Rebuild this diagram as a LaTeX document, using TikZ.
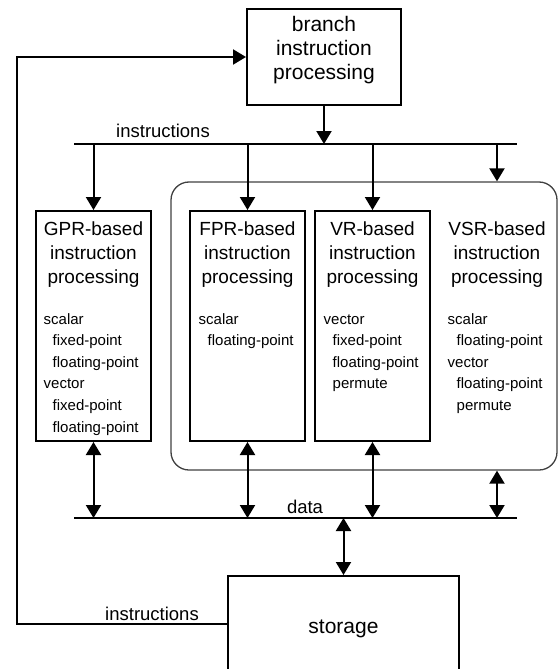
\documentclass[tikz,border=0pt]{standalone}
\usepackage{fontspec}
\setmainfont{Liberation Sans}
\usetikzlibrary{arrows.meta}
\newcommand{\mlines}[2]{\begin{tabular}[t]{@{}#1@{}}#2\end{tabular}}
\newcommand{\ind}{\hspace*{9pt}}
\begin{document}
\begin{tikzpicture}[x=1pt,y=-1pt,
  procbox/.style={draw=black, line width=2pt, inner sep=0pt, minimum width=115pt, minimum height=230pt},
  conn/.style={line width=2pt},
  arr/.style={conn, -{Triangle[length=13pt,width=15pt]}},
  biarr/.style={conn, {Triangle[length=13pt,width=15pt]}-{Triangle[length=13pt,width=15pt]}},
  ttl/.style={font=\fontsize{19}{24}\selectfont, inner sep=0pt, anchor=base},
  itm/.style={font=\fontsize{15}{21.6}\selectfont, inner sep=0pt, anchor=base west},
  lbl/.style={font=\fontsize{18.5}{22}\selectfont, inner sep=0pt, anchor=base},
  big/.style={font=\fontsize{21}{24}\selectfont, inner sep=0pt, anchor=base}
]
\useasboundingbox (0,0) rectangle (558,669);
\clip (0,0) rectangle (558,669);
\renewcommand{\arraystretch}{1}

% container of FPR/VR/VSR
\node[draw=black!75, line width=1.3pt, rounded corners=18pt, minimum width=386pt, minimum height=288pt, inner sep=0pt] (grp) at (364,326) {};

% boxes
\node[draw=black, line width=2pt, inner sep=0pt, minimum width=154pt, minimum height=96pt] (branch) at (324,57) {};
\node[procbox] (gpr) at (93.5,326) {};
\node[procbox] (fpr) at (247.5,326) {};
\node[procbox] (vr) at (372.5,326) {};
\node[draw=black, line width=2pt, inner sep=0pt, minimum width=231pt, minimum height=124pt] (storage) at (343.5,638) {};

% texts
\node[big] (branchtxt) at (324,32) {\mlines{c}{branch\\instruction\\processing}};
\node[ttl] (gprtitle) at (93.5,235) {\mlines{c}{GPR-based\\instruction\\processing}};
\node[ttl] (fprtitle) at (247.5,235) {\mlines{c}{FPR-based\\instruction\\processing}};
\node[ttl] (vrtitle) at (372.5,235) {\mlines{c}{VR-based\\instruction\\processing}};
\node[ttl] (vsrtitle) at (497,235) {\mlines{c}{VSR-based\\instruction\\processing}};

\node[itm] (gpritems) at (43.5,324) {\mlines{l}{scalar\\\ind fixed-point\\\ind floating-point\\vector\\\ind fixed-point\\\ind floating-point}};
\node[itm] (fpritems) at (198.5,324) {\mlines{l}{scalar\\\ind floating-point}};
\node[itm] (vritems) at (323.5,324) {\mlines{l}{vector\\\ind fixed-point\\\ind floating-point\\\ind permute}};
\node[itm] (vsritems) at (447.5,324) {\mlines{l}{scalar\\\ind floating-point\\vector\\\ind floating-point\\\ind permute}};

\node[lbl] (instrtop) at (163,137) {instructions};
\node[lbl] (instrbot) at (152,620) {instructions};
\node[lbl] (datalbl) at (305,513) {data};
\node[big] (storagetxt) at (343.5,633) {storage};

% instruction bus
\coordinate (ibL) at (74,144);
\coordinate (ibR) at (517,144);
\coordinate (vsrx) at (497,144);
\draw[conn] (ibL) -- (ibR);
\draw[arr] (branch.south) -- (branch.south |- ibL);
\draw[arr] (gpr.north |- ibL) -- (gpr.north);
\draw[arr] (fpr.north |- ibL) -- (fpr.north);
\draw[arr] (vr.north |- ibL) -- (vr.north);
\draw[arr] (vsrx) -- (vsrx |- grp.north);

% data bus
\coordinate (dbL) at (74,518);
\coordinate (dbR) at (517,518);
\draw[conn] (dbL) -- (dbR);
\draw[biarr] (gpr.south) -- (gpr.south |- dbL);
\draw[biarr] (fpr.south) -- (fpr.south |- dbL);
\draw[biarr] (vr.south) -- (vr.south |- dbL);
\draw[biarr] (vsrx |- grp.south) -- (vsrx |- dbL);
\draw[biarr] (storage.north |- dbL) -- (storage.north);

% feedback of instructions from storage to branch processing
\coordinate (fbB) at (17,624);
\coordinate (fbT) at (17,57);
\draw[arr] (fbB -| storage.west) -- (fbB) -- (fbT) -- (branch.west);
\end{tikzpicture}
\end{document}
